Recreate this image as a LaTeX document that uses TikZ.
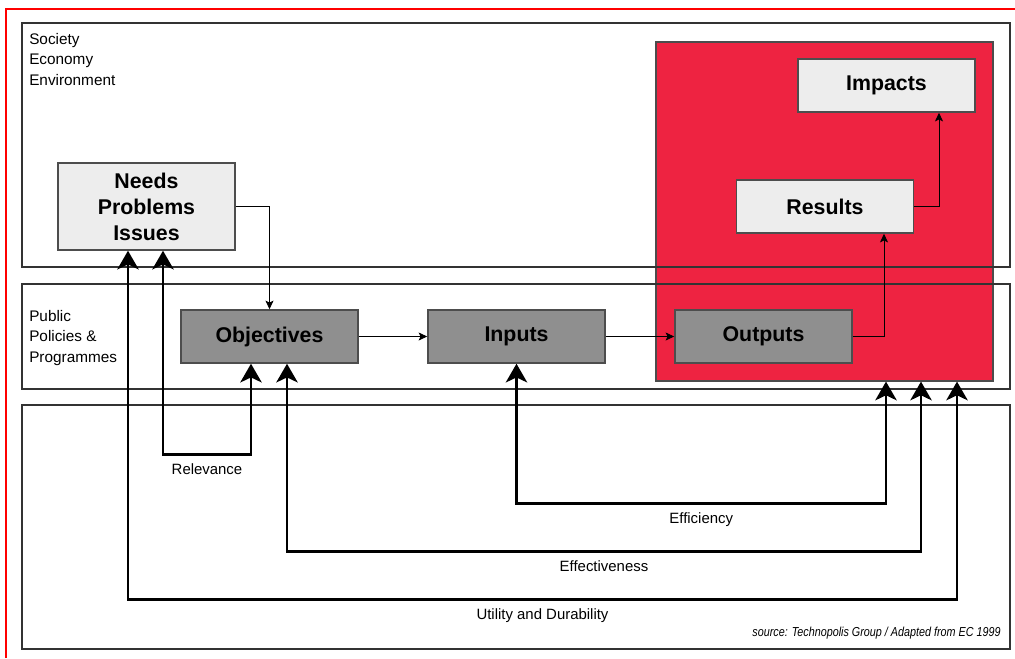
\documentclass[tikz,border=0pt]{standalone}
\usepackage{fontspec}
\setmainfont{Liberation Sans}
\newfontfamily\sourcefont[FakeStretch=0.83]{Liberation Sans}
\usetikzlibrary{arrows.meta,calc}

\definecolor{frame}{rgb}{1,0,0}
\definecolor{outcome}{RGB}{238,35,65}
\definecolor{boxlight}{RGB}{237,237,237}
\definecolor{boxdark}{RGB}{143,143,143}
\definecolor{boxedge}{RGB}{77,77,77}

\tikzset{
  band/.style={draw=black!80, line width=1pt},
  lightbox/.style={draw=boxedge, fill=boxlight, line width=1.1pt, inner sep=0pt,
    minimum width=132.75pt, minimum height=39.75pt, align=center,
    font=\fontsize{16}{19.5}\selectfont\bfseries},
  darkbox/.style={lightbox, fill=boxdark},
  bandtext/.style={anchor=base west, align=left, inner sep=0pt,
    font=\fontsize{11.5}{15.2}\selectfont},
  criterion/.style={anchor=base, yshift=-15pt, inner sep=0pt,
    font=\fontsize{11.2}{14}\selectfont},
  smallarrow/.style={-{Stealth[length=6.5pt,width=6pt,inset=1.5pt]}, line width=0.75pt},
  bigarrow/.style={{Stealth[length=14pt,width=16pt,inset=3.75pt]}-{Stealth[length=14pt,width=16pt,inset=3.75pt]},
    line width=2.2pt},
}

\begin{document}
\begin{tikzpicture}[x=0.75pt, y=-0.75pt]
            \useasboundingbox (0,0) rectangle (1015,658);
            \draw[frame, line width=1.5pt] (5.5,658) -- (5.5,8.5) -- (1015,8.5);

            \node[draw=black!70, fill=outcome, line width=0.9pt, minimum width=252.75pt, minimum height=254.25pt] (redbox) at (824.5,211.5) {};

            \draw[band] (22,23) rectangle (1010,267);
            \draw[band] (22,284) rectangle (1010,389);
            \draw[band] (22,405) rectangle (1010,649);

            % base anchor sits on the last line
            \node[bandtext] (society) at (29,85) {Society\\Economy\\Environment};
            \node[bandtext] (public) at (29,362) {Public\\Policies \&\\Programmes};

            \node[lightbox, minimum height=65.25pt] (needs) at (146.5,206.5) {Needs\\Problems\\Issues};
            \node[darkbox] (objectives) at (269.5,336.5) {Objectives};
            \node[darkbox] (inputs) at (516.5,336.5) {Inputs};
            \node[darkbox] (outputs) at (763.5,336.5) {Outputs};
            \node[lightbox] (results) at (825,206.5) {Results};
            \node[lightbox] (impacts) at (886.5,85.5) {Impacts};

            \draw[smallarrow] (needs.east) -| (objectives.north);
            \draw[smallarrow] (objectives) -- (inputs);
            \draw[smallarrow] (inputs) -- (outputs);
            \draw[smallarrow] (outputs.east) -| ($(results.south)+(59,0)$);
            \draw[smallarrow] (results.east) -| ($(impacts.south)+(52.5,0)$);

            \draw[bigarrow] ($(needs.south)+(16.5,0)$) |- ($(objectives.south)+(-18.5,91)$) node[criterion, pos=0.75] {Relevance} -- ($(objectives.south)+(-18.5,0)$);
            \draw[bigarrow] (inputs.south) |- ($(redbox.south)+(61.5,122)$) node[criterion, pos=0.75] {Efficiency} -- ($(redbox.south)+(61.5,0)$);
            \draw[bigarrow] ($(objectives.south)+(17.5,0)$) |- ($(redbox.south)+(96.5,170)$) node[criterion, pos=0.75] {Effectiveness} -- ($(redbox.south)+(96.5,0)$);
            \draw[bigarrow] ($(needs.south)+(-18.5,0)$) |- ($(redbox.south)+(132.5,218)$) node[criterion, pos=0.75] {Utility and Durability} -- ($(redbox.south)+(132.5,0)$);

            \node[anchor=base east, inner sep=0pt, font=\sourcefont\fontsize{9.75}{12}\selectfont\itshape] (source) at (1001,636) {source: Technopolis Group / Adapted from EC 1999};
        \end{tikzpicture}
\end{document}
